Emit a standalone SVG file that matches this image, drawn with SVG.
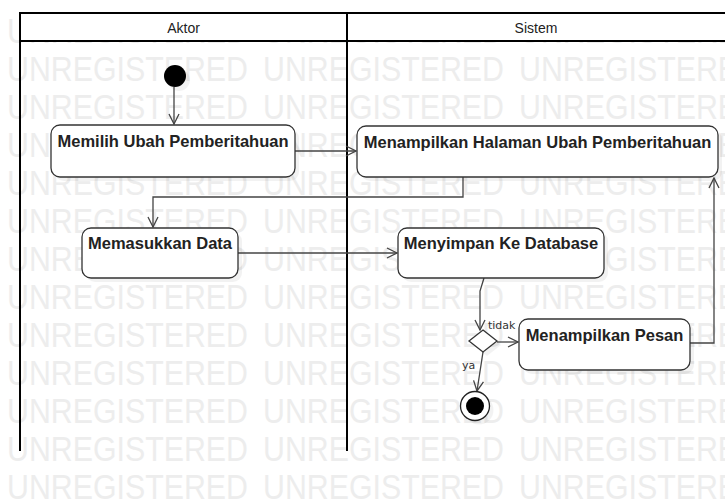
<svg xmlns="http://www.w3.org/2000/svg" xmlns:xlink="http://www.w3.org/1999/xlink" width="725" height="499" viewBox="0 0 725 499">
<defs>
<marker id="arr" markerUnits="userSpaceOnUse" markerWidth="12" markerHeight="12" refX="11" refY="6" orient="auto"><path d="M1,1 L11,6 L1,11" fill="none" stroke="#444" stroke-width="1.3"/></marker>
<g id="wmrow">
<text class="wm" x="7" y="0" textLength="241" lengthAdjust="spacingAndGlyphs">UNREGISTERED</text>
<text class="wm" x="263" y="0" textLength="241" lengthAdjust="spacingAndGlyphs">UNREGISTERED</text>
<text class="wm" x="519" y="0" textLength="241" lengthAdjust="spacingAndGlyphs">UNREGISTERED</text>
</g>
</defs>
<style>
.wm{font-family:"Liberation Sans",Arial,sans-serif;font-size:35px;fill:#ededed}
.lane{stroke:#000;stroke-width:2;fill:none}
.hdr{font-family:"Liberation Sans",Arial,sans-serif;font-size:14px;fill:#222;text-anchor:middle}
.node{fill:#fff;stroke:#333;stroke-width:1.3}
.shadow{fill:#000;opacity:0.05}
.lbl{font-family:"Liberation Sans",Arial,sans-serif;font-size:16.5px;font-weight:bold;fill:#222;text-anchor:middle}
.conn{fill:none;stroke:#444;stroke-width:1.3}
.guard{font-family:"DejaVu Sans",sans-serif;font-size:11px;fill:#333}
</style>
<rect width="725" height="499" fill="#fff"/>
<g id="watermark">
<use xlink:href="#wmrow" y="43"/><use xlink:href="#wmrow" y="81"/><use xlink:href="#wmrow" y="119"/>
<use xlink:href="#wmrow" y="157"/><use xlink:href="#wmrow" y="195"/><use xlink:href="#wmrow" y="233"/>
<use xlink:href="#wmrow" y="271"/><use xlink:href="#wmrow" y="309"/><use xlink:href="#wmrow" y="347"/>
<use xlink:href="#wmrow" y="385"/><use xlink:href="#wmrow" y="423"/><use xlink:href="#wmrow" y="461"/>
<use xlink:href="#wmrow" y="499"/>
</g>
<g id="lanes">
<rect x="20" y="13" width="710" height="28" fill="#fff"/>
<path class="lane" d="M20,451 V13 H725 M20,41 H725 M347,13 V451"/>
<text class="hdr" x="183.5" y="33">Aktor</text>
<text class="hdr" x="536" y="33">Sistem</text>
</g>
<g id="connectors">
<path class="conn" d="M174,87 V124" marker-end="url(#arr)"/>
<path class="conn" d="M295,151 H356" marker-end="url(#arr)"/>
<path class="conn" d="M463,177 V197 H153 V227" marker-end="url(#arr)"/>
<path class="conn" d="M238,253 H397" marker-end="url(#arr)"/>
<path class="conn" d="M484,278 L480,291 L480,330" marker-end="url(#arr)"/>
<path class="conn" d="M497,342 H518" marker-end="url(#arr)"/>
<path class="conn" d="M483,352 L477,391" marker-end="url(#arr)"/>
<path class="conn" d="M690,343 H714 V178" marker-end="url(#arr)"/>
<text class="guard" x="488" y="329">tidak</text>
<text class="guard" x="462" y="369">ya</text>
</g>
<g id="start">
<circle class="shadow" cx="179" cy="80" r="11"/>
<circle cx="175" cy="76" r="11" fill="#000"/>
</g>
<g id="n1">
<rect class="shadow" x="55" y="129" width="244" height="52" rx="9"/>
<rect class="node" x="51" y="125" width="244" height="52" rx="9"/>
<text class="lbl" x="173" y="147">Memilih Ubah Pemberitahuan</text>
</g>
<g id="n2">
<rect class="shadow" x="361" y="130" width="361" height="51" rx="9"/>
<rect class="node" x="357" y="126" width="361" height="51" rx="9"/>
<text class="lbl" x="537.5" y="148">Menampilkan Halaman Ubah Pemberitahuan</text>
</g>
<g id="n3">
<rect class="shadow" x="86" y="232" width="156" height="50" rx="9"/>
<rect class="node" x="82" y="228" width="156" height="50" rx="9"/>
<text class="lbl" x="160" y="249">Memasukkan Data</text>
</g>
<g id="n4">
<rect class="shadow" x="402" y="232" width="206" height="50" rx="9"/>
<rect class="node" x="398" y="228" width="206" height="50" rx="9"/>
<text class="lbl" x="501" y="249">Menyimpan Ke Database</text>
</g>
<g id="decision">
<polygon class="shadow" points="487,334 501,345 487,356 473,345"/>
<polygon class="node" points="483,330 497,341 483,352 469,341"/>
</g>
<g id="n5">
<rect class="shadow" x="523" y="323" width="171" height="51" rx="9"/>
<rect class="node" x="519" y="319" width="171" height="51" rx="9"/>
<text class="lbl" x="604.5" y="341">Menampilkan Pesan</text>
</g>
<g id="end">
<circle class="shadow" cx="479" cy="410" r="14.5"/>
<circle cx="475" cy="406" r="14.5" fill="#fff" stroke="#222" stroke-width="1.3"/>
<circle cx="475" cy="406" r="9" fill="#000"/>
</g>
</svg>
